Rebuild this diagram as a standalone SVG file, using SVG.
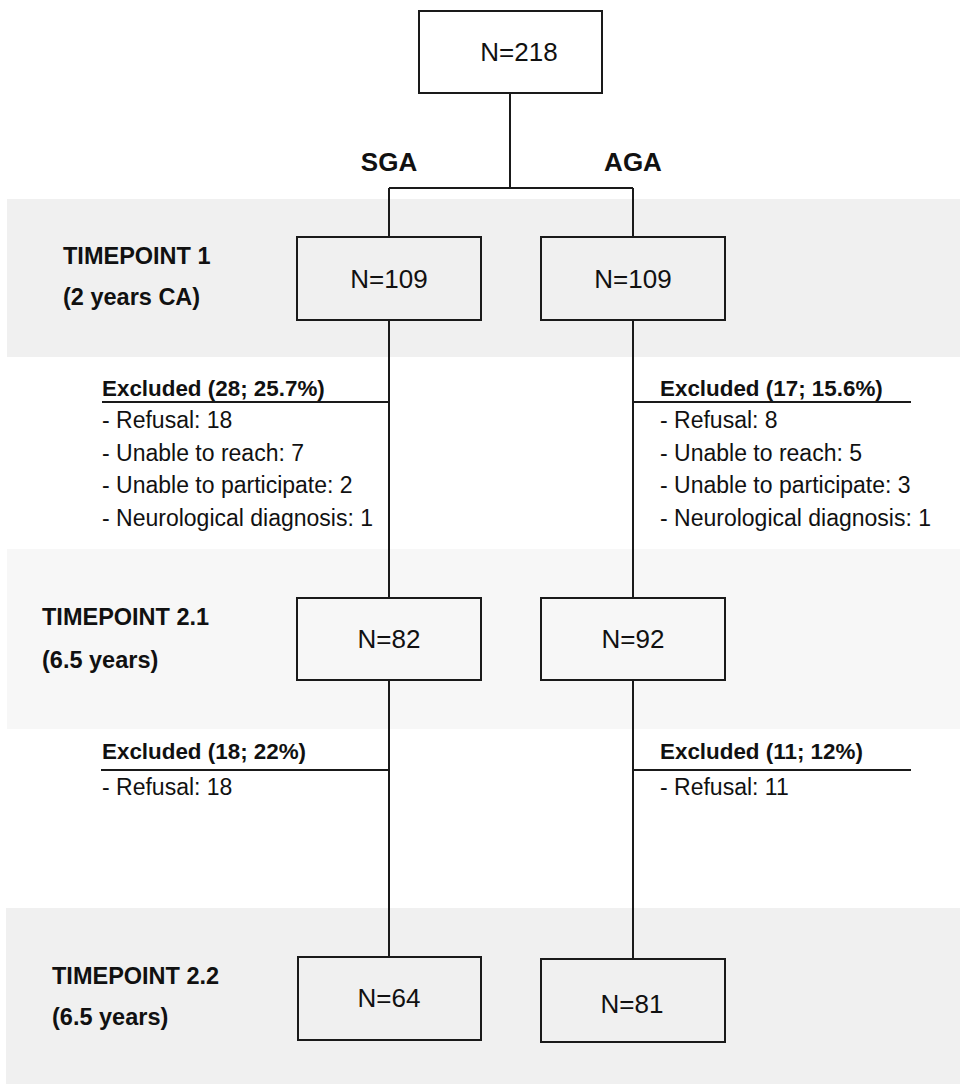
<svg xmlns="http://www.w3.org/2000/svg" width="960" height="1084" viewBox="0 0 960 1084">
<style>
.band1{fill:#f0f0f0}
.band2{fill:#f7f7f7}
.box{fill:none;stroke:#1a1a1a;stroke-width:2}
.ln{fill:none;stroke:#1a1a1a;stroke-width:2}
.n{font-family:"Liberation Sans",Arial,sans-serif;font-size:26px;fill:#111;text-anchor:middle}
.grp{font-family:"Liberation Sans",Arial,sans-serif;font-size:26px;font-weight:bold;fill:#111;text-anchor:middle}
.tp{font-family:"Liberation Sans",Arial,sans-serif;font-size:23.5px;font-weight:bold;fill:#111}
.exh{font-family:"Liberation Sans",Arial,sans-serif;font-size:22.4px;font-weight:bold;fill:#111}
.exl{font-family:"Liberation Sans",Arial,sans-serif;font-size:23px;fill:#111}
</style>
<rect width="960" height="1084" fill="#ffffff"/>
<g id="bands">
<rect class="band1" x="7" y="199" width="953" height="158"/>
<rect class="band2" x="7" y="549" width="953" height="180"/>
<rect class="band1" x="6" y="908" width="954" height="176"/>
</g>
<g id="timepoint-labels">
<text class="tp" x="63" y="264">TIMEPOINT 1</text>
<text class="tp" x="63" y="305">(2 years CA)</text>
<text class="tp" x="42" y="625">TIMEPOINT 2.1</text>
<text class="tp" x="42" y="668">(6.5 years)</text>
<text class="tp" x="52" y="984">TIMEPOINT 2.2</text>
<text class="tp" x="52" y="1025">(6.5 years)</text>
</g>
<g id="group-labels">
<text class="grp" x="389" y="171">SGA</text>
<text class="grp" x="633" y="171">AGA</text>
</g>
<g id="connectors">
<path class="ln" d="M510 93 V188 M389 188 H633 M389 188 V237 M633 188 V237"/>
<path class="ln" d="M389 320 V598 M633 320 V598"/>
<path class="ln" d="M389 680 V957 M633 680 V959"/>
<path class="ln" d="M102 402 H389 M633 402 H911"/>
<path class="ln" d="M101 770 H389 M633 770 H911"/>
</g>
<g id="node-total">
<rect class="box" x="419" y="11" width="183" height="82"/>
<text class="n" x="519" y="61">N=218</text>
</g>
<g id="node-sga-t1">
<rect class="box" x="297" y="237" width="184" height="83"/>
<text class="n" x="389" y="288">N=109</text>
</g>
<g id="node-aga-t1">
<rect class="box" x="541" y="237" width="184" height="83"/>
<text class="n" x="633" y="288">N=109</text>
</g>
<g id="node-sga-t21">
<rect class="box" x="297" y="598" width="184" height="82"/>
<text class="n" x="389" y="648">N=82</text>
</g>
<g id="node-aga-t21">
<rect class="box" x="541" y="598" width="184" height="82"/>
<text class="n" x="633" y="648">N=92</text>
</g>
<g id="node-sga-t22">
<rect class="box" x="298" y="957" width="183" height="83"/>
<text class="n" x="389" y="1007">N=64</text>
</g>
<g id="node-aga-t22">
<rect class="box" x="541" y="959" width="184" height="83"/>
<text class="n" x="632" y="1013">N=81</text>
</g>
<g id="excl-sga-1">
<text class="exh" x="102" y="396">Excluded (28; 25.7%)</text>
<text class="exl" x="102" y="428">- Refusal: 18</text>
<text class="exl" x="102" y="461">- Unable to reach: 7</text>
<text class="exl" x="102" y="493">- Unable to participate: 2</text>
<text class="exl" x="102" y="526">- Neurological diagnosis: 1</text>
</g>
<g id="excl-aga-1">
<text class="exh" x="660" y="396">Excluded (17; 15.6%)</text>
<text class="exl" x="660" y="428">- Refusal: 8</text>
<text class="exl" x="660" y="461">- Unable to reach: 5</text>
<text class="exl" x="660" y="493">- Unable to participate: 3</text>
<text class="exl" x="660" y="526">- Neurological diagnosis: 1</text>
</g>
<g id="excl-sga-2">
<text class="exh" x="102" y="759">Excluded (18; 22%)</text>
<text class="exl" x="102" y="795">- Refusal: 18</text>
</g>
<g id="excl-aga-2">
<text class="exh" x="660" y="759">Excluded (11; 12%)</text>
<text class="exl" x="660" y="795">- Refusal: 11</text>
</g>
</svg>
